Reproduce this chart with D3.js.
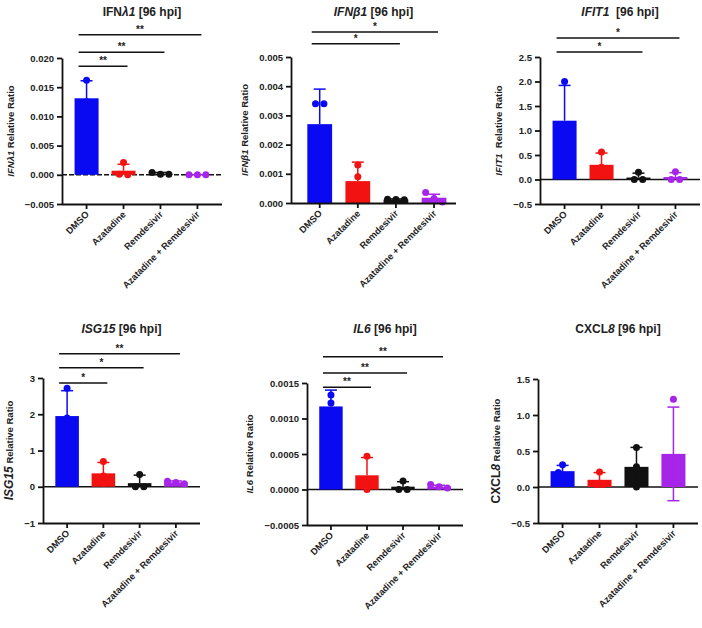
<!DOCTYPE html>
<html lang="en">
<head>
<meta charset="UTF-8">
<title>Relative Ratio [96 hpi]</title>
<script src="https://d3js.org/d3.v7.min.js"></script>
<style>
  body { margin: 0; background: #fff; }
  svg { font-family: "Liberation Sans", Arial, sans-serif; font-weight: bold; }
  .axis path, .axis line { stroke: #111; stroke-width: 1.8; }
  .axis text { fill: #222; font-size: 9.5px; font-family: "Liberation Sans", Arial, sans-serif; font-weight: bold; }
</style>
</head>
<body>
<div id="chart"></div>
<script>
// treatment groups, same order in every panel
const groups = ["DMSO", "Azatadine", "Remdesivir", "Azatadine + Remdesivir"];
const groupColors = ["#0a0af2", "#f21212", "#111111", "#a625e8"];

// IFNλ1
const ifnl1Mean = [0.0131, 0.0007, 0.0002, 0.0000];
const ifnl1Sd = [0.0030, 0.0011, 0.0002, 0.0000];
const ifnl1Points = [[0.0162, 0.0125, 0.0107], [0.0021, 0.0001, 0.0000], [0.0004, 0.0001, 0.0001], [0.0000, 0.0000, 0.0000]];
const ifnl1Ticks = [-0.005, 0, 0.005, 0.010, 0.015, 0.020];
const ifnl1SigTo = ["Azatadine", "Remdesivir", "Azatadine + Remdesivir"];
const ifnl1SigY = [0.0186, 0.0210, 0.0240];
const ifnl1SigText = ["**", "**", "**"];

// IFNβ1
const ifnb1Mean = [0.00270, 0.00075, 0.00012, 0.00018];
const ifnb1Sd = [0.00120, 0.00065, 0.00002, 0.00012];
const ifnb1Points = [[0.0034, 0.0034, 0.0013], [0.0013, 0.0009, 0.0001], [0.00013, 0.00012, 0.00011], [0.00036, 0.00015, 0.00003]];
const ifnb1Ticks = [0, 0.001, 0.002, 0.003, 0.004, 0.005];
const ifnb1SigTo = ["Remdesivir", "Azatadine + Remdesivir"];
const ifnb1SigY = [0.00545, 0.00586];
const ifnb1SigText = ["*", "*"];

// IFIT1
const ifit1Mean = [1.20, 0.30, 0.04, 0.05];
const ifit1Sd = [0.72, 0.24, 0.09, 0.09];
const ifit1Points = [[2.0, 0.9, 0.7], [0.56, 0.25, 0.10], [0.15, 0.0, 0.0], [0.16, 0.0, 0.0]];
const ifit1Ticks = [-0.5, 0, 0.5, 1.0, 1.5, 2.0, 2.5];
const ifit1SigTo = ["Remdesivir", "Azatadine + Remdesivir"];
const ifit1SigY = [2.60, 2.89];
const ifit1SigText = ["*", "*"];

// ISG15
const isg15Mean = [1.95, 0.37, 0.10, 0.12];
const isg15Sd = [0.70, 0.30, 0.22, 0.04];
const isg15Points = [[2.72, 1.90, 1.25], [0.70, 0.30, 0.10], [0.34, 0.0, 0.0], [0.15, 0.12, 0.08]];
const isg15Ticks = [-1, 0, 1, 2, 3];
const isg15SigTo = ["Azatadine", "Remdesivir", "Azatadine + Remdesivir"];
const isg15SigY = [2.86, 3.28, 3.67];
const isg15SigText = ["*", "*", "**"];

// IL6
const il6Mean = [0.00117, 0.00020, 0.00004, 0.00004];
const il6Sd = [0.00023, 0.00025, 0.00007, 0.00002];
const il6Points = [[0.00133, 0.00122, 0.00097], [0.00047, 0.00010, 0.00000], [0.00012, 0.00000, 0.00000], [0.00007, 0.00004, 0.00002]];
const il6Ticks = [-0.0005, 0, 0.0005, 0.0010, 0.0015];
const il6SigTo = ["Azatadine", "Remdesivir", "Azatadine + Remdesivir"];
const il6SigY = [0.00144, 0.00164, 0.00187];
const il6SigText = ["**", "**", "**"];

// CXCL8
const cxcl8Mean = [0.22, 0.10, 0.28, 0.46];
const cxcl8Sd = [0.08, 0.10, 0.27, 0.65];
const cxcl8Points = [[0.31, 0.20, 0.15], [0.21, 0.05, 0.05], [0.55, 0.28, 0.0], [1.22, 0.10, 0.05]];
const cxcl8Ticks = [-0.5, 0, 0.5, 1.0, 1.5];

const width = 702;
const height = 628;

const panels = [
  { title: [["IFN", false], ["λ1", true]], label: [["IFNλ1", true, 9.5]], mean: ifnl1Mean, sd: ifnl1Sd, points: ifnl1Points,
    ticks: ifnl1Ticks, fmt: ".3f", sigTo: ifnl1SigTo, sigY: ifnl1SigY, sigText: ifnl1SigText,
    box: { x0: 62, x1: 222, y0: 58, y1: 204 }, titleY: 16, align: 0.5, dashZero: true },
  { title: [["IFNβ1", true]], label: [["IFNβ1", true, 9.5]], mean: ifnb1Mean, sd: ifnb1Sd, points: ifnb1Points,
    ticks: ifnb1Ticks, fmt: ".3f", sigTo: ifnb1SigTo, sigY: ifnb1SigY, sigText: ifnb1SigText,
    box: { x0: 291, x1: 456, y0: 57, y1: 203 }, titleY: 16, align: 0.63 },
  { title: [["IFIT1", true], ["\u00a0", false]], label: [["IFIT1", true, 9.5], ["\u00a0", false, 9.5]], mean: ifit1Mean, sd: ifit1Sd, points: ifit1Points,
    ticks: ifit1Ticks, fmt: ".1f", sigTo: ifit1SigTo, sigY: ifit1SigY, sigText: ifit1SigText,
    box: { x0: 540, x1: 700, y0: 57, y1: 204 }, titleY: 16, align: 0.5 },
  { title: [["ISG15", true]], label: [["ISG15", true, 12]], mean: isg15Mean, sd: isg15Sd, points: isg15Points,
    ticks: isg15Ticks, fmt: "d", sigTo: isg15SigTo, sigY: isg15SigY, sigText: isg15SigText,
    box: { x0: 43, x1: 200, y0: 378, y1: 523 }, titleY: 333, align: 0.5 },
  { title: [["IL6", true]], label: [["IL6", true, 9.5]], mean: il6Mean, sd: il6Sd, points: il6Points,
    ticks: il6Ticks, fmt: ".4f", sigTo: il6SigTo, sigY: il6SigY, sigText: il6SigText,
    box: { x0: 307, x1: 463, y0: 383, y1: 525 }, titleY: 333, align: 0.5 },
  { title: [["CXCL", false], ["8", true]], label: [["CXCL", false, 12], ["8", true, 12]], mean: cxcl8Mean, sd: cxcl8Sd, points: cxcl8Points,
    ticks: cxcl8Ticks, fmt: ".1f", sigTo: [], sigY: [], sigText: [],
    box: { x0: 538, x1: 698, y0: 379, y1: 523 }, titleY: 333, align: 0.5, bothErr: true }
];

const svg = d3.select("#chart").append("svg")
  .attr("width", width)
  .attr("height", height);

// spread dots that would overlap, like a column scatter
function spread(vals, y, r) {
  const order = vals.map((v, i) => i).sort((a, b) => y(vals[a]) - y(vals[b]));
  const offs = vals.map(() => 0);
  let cluster = [order[0]];
  const flush = () => {
    const k = cluster.length;
    cluster.forEach((j, m) => { offs[j] = (m - (k - 1) / 2) * 2.4 * r; });
  };
  for (let m = 1; m < order.length; m++) {
    const last = cluster[cluster.length - 1];
    if (Math.abs(y(vals[order[m]]) - y(vals[last])) < 2 * r) cluster.push(order[m]);
    else { flush(); cluster = [order[m]]; }
  }
  flush();
  return offs;
}

function drawPanel(p) {
  const b = p.box;
  const y = d3.scaleLinear()
    .domain(d3.extent(p.ticks))
    .range([b.y1, b.y0]);
  const x = d3.scaleBand()
    .domain(groups)
    .range([b.x0, b.x1])
    .paddingInner(0.35)
    .paddingOuter(0.34)
    .align(p.align);
  const cx = d => x(d) + x.bandwidth() / 2;
  const g = svg.append("g");

  // line at zero when the axis goes negative
  if (y.domain()[0] < 0) {
    g.append("line")
      .attr("x1", b.x0).attr("x2", b.x1)
      .attr("y1", y(0)).attr("y2", y(0))
      .attr("stroke", "#111")
      .attr("stroke-width", 1.5)
      .attr("stroke-dasharray", p.dashZero ? "5,2" : null);
  }

  // bars
  g.selectAll("rect.bar")
    .data(groups)
    .join("rect")
    .attr("class", "bar")
    .attr("x", d => x(d))
    .attr("width", x.bandwidth())
    .attr("y", (d, i) => y(Math.max(0, p.mean[i])))
    .attr("height", (d, i) => Math.abs(y(p.mean[i]) - y(0)))
    .attr("fill", (d, i) => groupColors[i]);

  // error bars (mean + SD, both ways only where the plot shows it)
  const cap = 6;
  const lo = i => p.bothErr ? Math.max(y.domain()[0], p.mean[i] - p.sd[i]) : p.mean[i];
  const hi = i => p.mean[i] + p.sd[i];
  const eb = g.selectAll("g.err")
    .data(groups)
    .join("g")
    .attr("class", "err")
    .attr("stroke", (d, i) => groupColors[i])
    .attr("stroke-width", 1.5);
  eb.append("line")
    .attr("x1", d => cx(d)).attr("x2", d => cx(d))
    .attr("y1", (d, i) => y(lo(i))).attr("y2", (d, i) => y(hi(i)));
  eb.append("line")
    .attr("x1", d => cx(d) - cap).attr("x2", d => cx(d) + cap)
    .attr("y1", (d, i) => y(hi(i))).attr("y2", (d, i) => y(hi(i)));
  if (p.bothErr) {
    eb.append("line")
      .attr("x1", d => cx(d) - cap).attr("x2", d => cx(d) + cap)
      .attr("y1", (d, i) => y(lo(i))).attr("y2", (d, i) => y(lo(i)));
  }

  // individual replicates
  const r = 3.5;
  groups.forEach((grp, i) => {
    const offs = spread(p.points[i], y, r);
    g.selectAll(null)
      .data(p.points[i])
      .join("circle")
      .attr("cx", (d, j) => cx(grp) + offs[j])
      .attr("cy", d => y(d))
      .attr("r", r)
      .attr("fill", groupColors[i]);
  });

  // axes
  const yAxisG = g.append("g")
    .attr("class", "axis")
    .attr("transform", "translate(" + b.x0 + ",0)")
    .call(d3.axisLeft(y).tickValues(p.ticks).tickFormat(d3.format(p.fmt)).tickSize(5).tickSizeOuter(0).tickPadding(3));
  yAxisG.attr("font-size", null).attr("font-family", null);

  const xAxisG = g.append("g")
    .attr("class", "axis")
    .attr("transform", "translate(0," + b.y1 + ")")
    .call(d3.axisBottom(x).tickSize(5).tickSizeOuter(0).tickFormat(""));
  xAxisG.select(".domain").attr("d", "M" + b.x0 + ",0.5H" + b.x1);

  g.selectAll("text.cat")
    .data(groups)
    .join("text")
    .attr("class", "cat")
    .attr("transform", d => "translate(" + (cx(d) + 3) + "," + (b.y1 + 11) + ") rotate(-45)")
    .attr("text-anchor", "end")
    .attr("font-size", 9.3)
    .attr("fill", "#222")
    .text(d => d);

  // significance brackets
  p.sigTo.forEach((to, k) => {
    const yy = y(p.sigY[k]);
    const xa = cx(groups[0]) - 8;
    const xb = cx(to) + 4;
    g.append("line")
      .attr("x1", xa).attr("x2", xb)
      .attr("y1", yy).attr("y2", yy)
      .attr("stroke", "#111")
      .attr("stroke-width", 1.5);
    g.append("text")
      .attr("x", (xa + xb) / 2)
      .attr("y", yy - 2)
      .attr("text-anchor", "middle")
      .attr("font-size", 10)
      .attr("fill", "#222")
      .text(p.sigText[k]);
  });

  // title
  const t = g.append("text")
    .attr("x", (b.x0 + b.x1) / 2)
    .attr("y", p.titleY)
    .attr("text-anchor", "middle")
    .attr("font-size", 12)
    .attr("fill", "#222");
  p.title.forEach(([s, it]) => t.append("tspan").attr("font-style", it ? "italic" : "normal").text(s));
  t.append("tspan").text(" [96 hpi]");

  // y label, placed left of the tick labels
  const left = yAxisG.node().getBBox().x + b.x0;
  const lab = g.append("text")
    .attr("transform", "translate(" + (left - 11) + "," + ((b.y0 + b.y1) / 2) + ") rotate(-90)")
    .attr("text-anchor", "middle")
    .attr("fill", "#222");
  p.label.forEach(([s, it, fs]) => lab.append("tspan").attr("font-style", it ? "italic" : "normal").attr("font-size", fs).text(s));
  lab.append("tspan").attr("font-size", 9.5).text(" Relative Ratio");
}

panels.forEach(drawPanel);
</script>
</body>
</html>
